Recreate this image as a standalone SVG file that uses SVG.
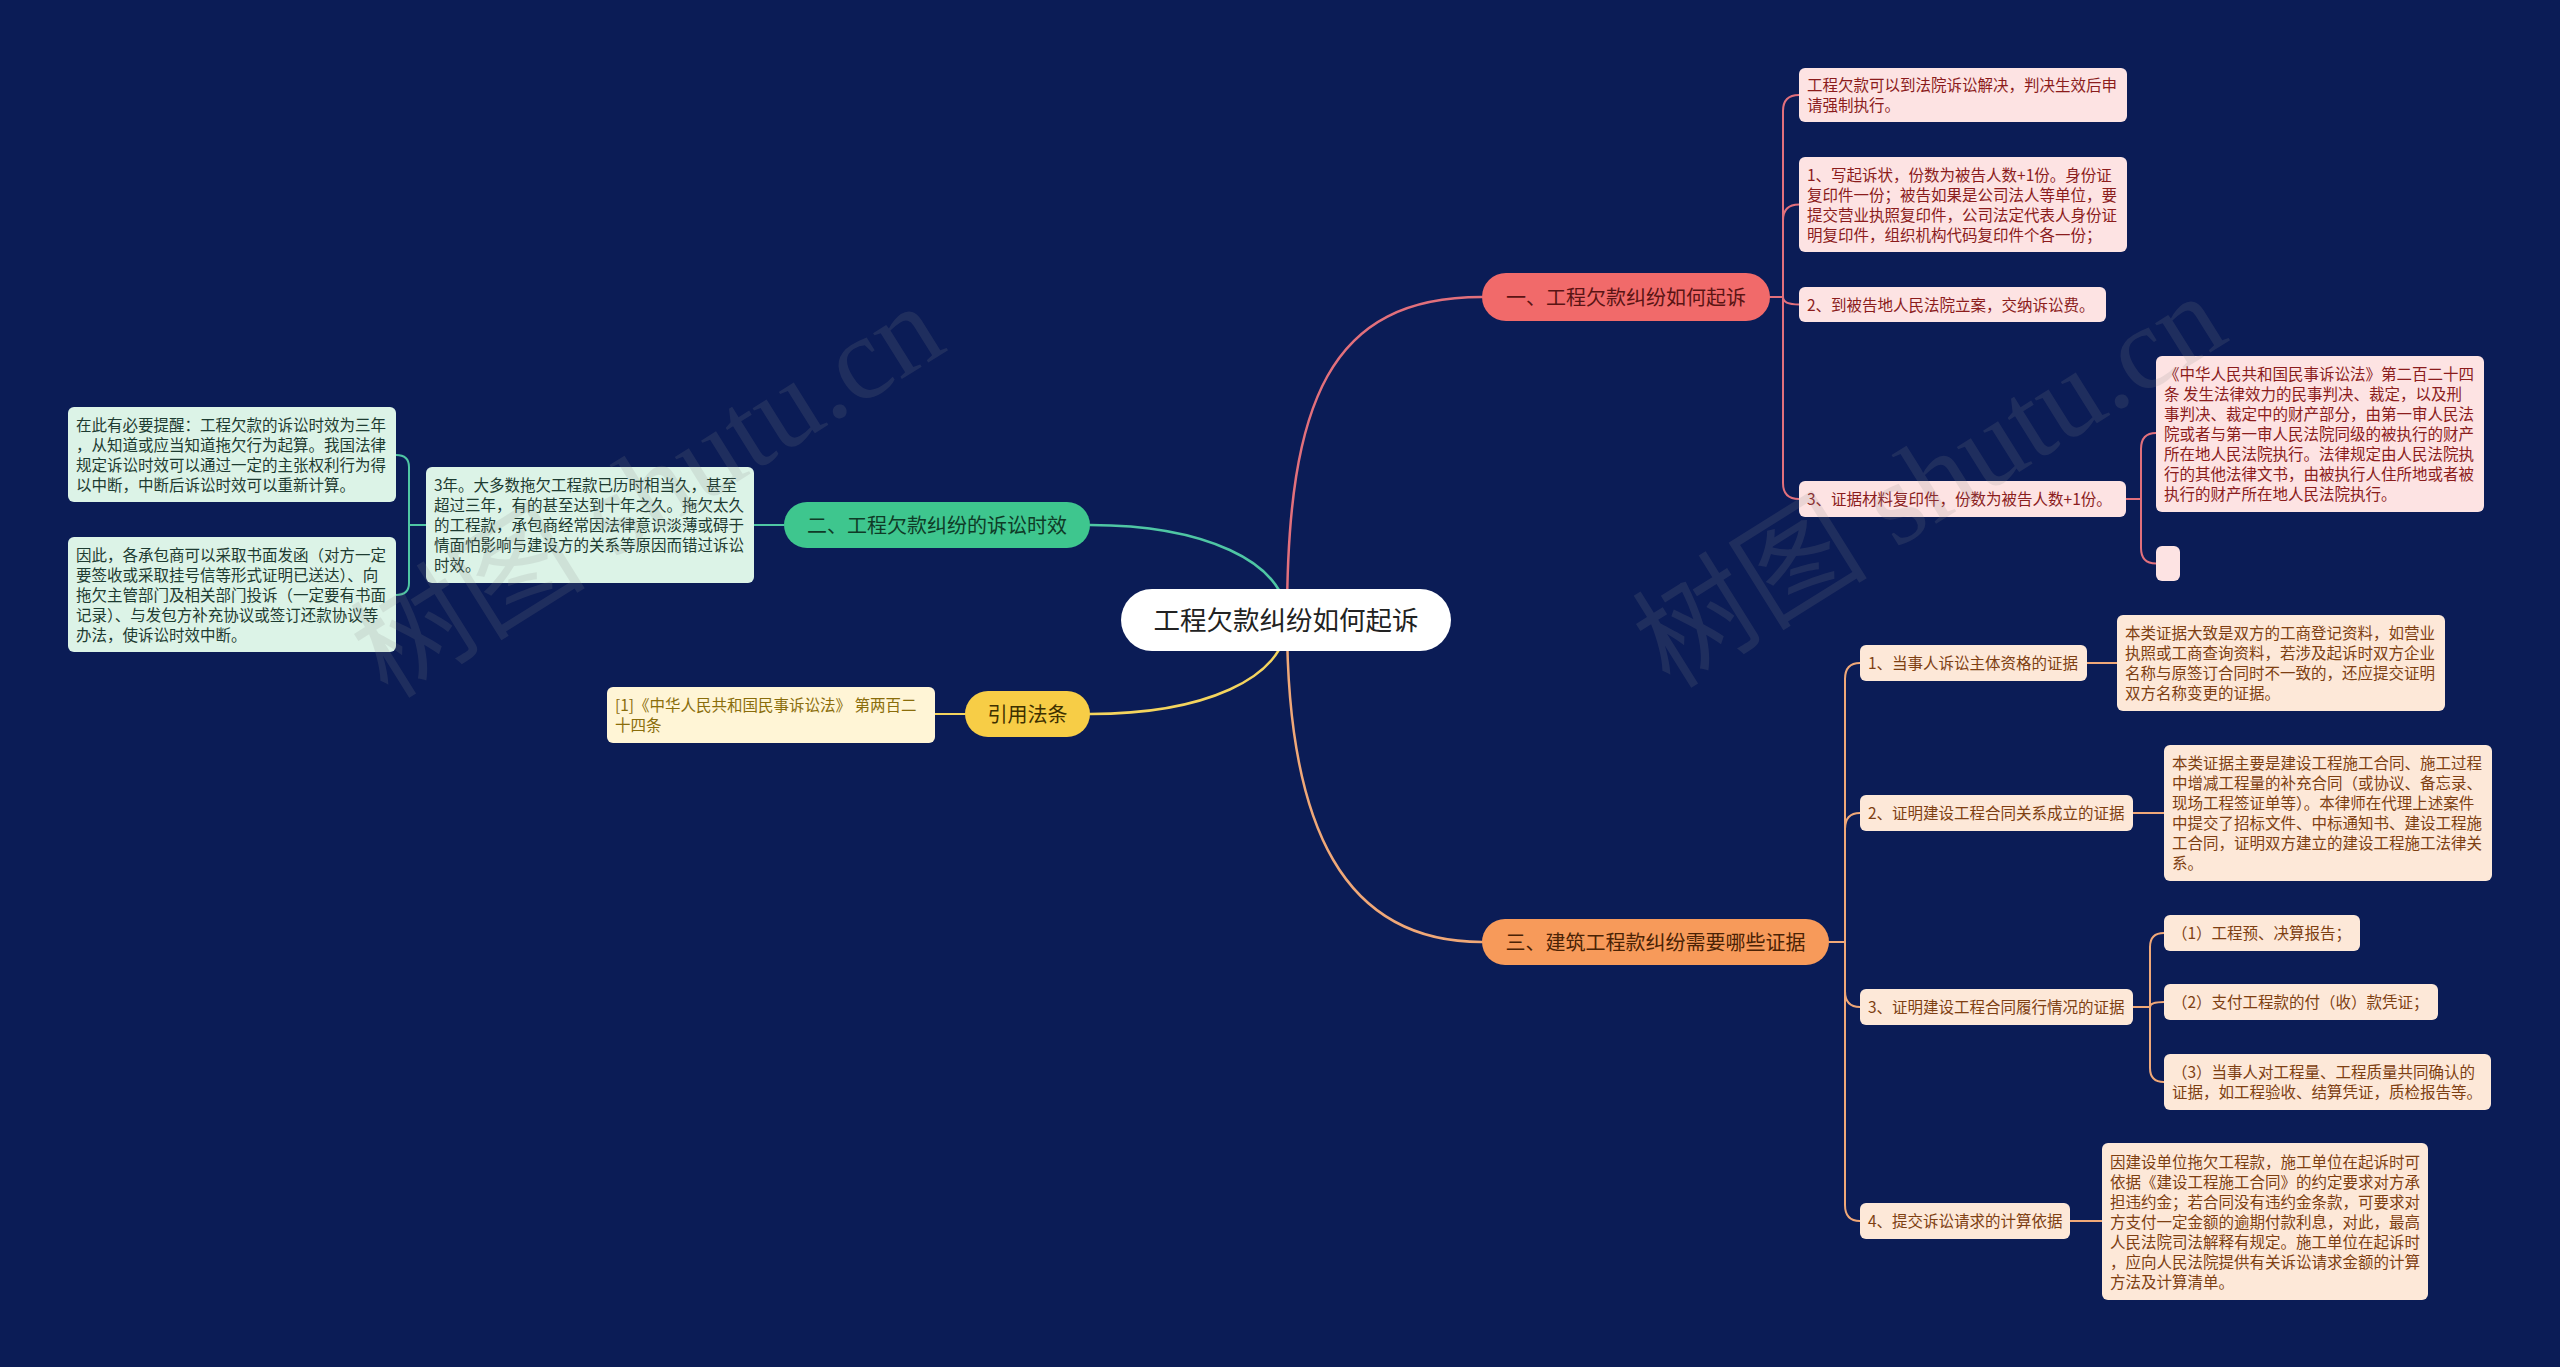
<svg xmlns="http://www.w3.org/2000/svg" width="2560" height="1367" viewBox="0 0 2560 1367">
<style>
text{font-family:"Noto Sans CJK SC","Noto Sans",sans-serif}
.s{font-size:15.5px}
.b{font-size:20px;text-anchor:middle}
.root{font-size:26.5px;text-anchor:middle;fill:#222}
.rbox{fill:#fde3e3}.rtx{fill:#8b1c1c}
.gbox{fill:#dcf3e7}.gtx{fill:#1e3b31}
.ybox{fill:#fff5d6}.ytx{fill:#8a6d0b}
.obox{fill:#fde8d8}.otx{fill:#7e3f12}
.c{fill:none;stroke-width:2;stroke-linecap:round}
.cm{fill:none;stroke-width:2.5;stroke-linecap:round}
.cr{stroke:#e2707c}.cg{stroke:#4fc6a4}.cy{stroke:#f4d45e}.co{stroke:#f0a878}
.wm{font-family:"Liberation Serif","Noto Sans CJK SC",serif;font-size:118px;fill:#8a8a8a;opacity:0.16}
</style>
<rect width="2560" height="1367" fill="#0b1c56"/>
<g id="connectors">
<path class="cm cr" d="M1287,620 C1287,400 1330,297 1482,297"/>
<path class="cm co" d="M1287,620 C1287,830 1345,942 1482,942"/>
<path class="cm cg" d="M1287,620 C1287,560 1200,525 1090,525"/>
<path class="cm cy" d="M1287,620 C1287,680 1200,714 1090,714"/>
<path class="c cr" d="M1770,297 H1783 M1783,297 V111 Q1783,95 1799,95 M1783,297 V220.5 Q1783,204.5 1799,204.5 M1783,297 Q1783,304.5 1799,304.5 M1783,297 V483 Q1783,499 1799,499"/>
<path class="c cr" d="M2126,499 H2141 M2141,499 V449 Q2141,433 2156,433 M2141,499 V548 Q2141,563.5 2156,563.5"/>
<path class="c cg" d="M426,525 H409 M409,525 V467 Q409,455 396,455 M409,525 V583 Q409,595 396,595 M754,525 H784"/>
<path class="c cy" d="M935,714 H965"/>
<path class="c co" d="M1829,942 H1845 M1845,942 V679 Q1845,663 1860,663 M1845,942 V829 Q1845,813 1860,813 M1845,942 V991 Q1845,1007 1860,1007 M1845,942 V1205 Q1845,1221 1860,1221"/>
<path class="c co" d="M2087,663 H2117 M2133,813 H2164 M2070,1221 H2102 M2133,1007 H2150 M2150,1007 V947 Q2150,933 2164,933 M2150,1007 Q2150,1002 2164,1002 M2150,1007 V1068 Q2150,1082 2164,1082"/>
</g>
<g id="root">
<rect x="1121" y="589" width="330" height="62" rx="31" fill="#ffffff"/>
<text class="root" x="1286" y="630">工程欠款纠纷如何起诉</text>
</g>
<g id="branch1">
<rect x="1482" y="273" width="288" height="48" rx="24" fill="#f16a6a"/>
<text class="b" x="1626" y="304.6" fill="#5a1414">一、工程欠款纠纷如何起诉</text>
</g>
<g id="r1">
<rect class="rbox" x="1799" y="68" width="328" height="54" rx="6"/>
<text class="s rtx" x="1807"><tspan x="1807" y="91">工程欠款可以到法院诉讼解决，判决生效后申</tspan><tspan x="1807" y="111">请强制执行。</tspan></text>
</g>
<g id="r2">
<rect class="rbox" x="1799" y="157" width="328" height="95" rx="6"/>
<text class="s rtx"><tspan x="1807" y="181">1、写起诉状，份数为被告人数+1份。身份证</tspan><tspan x="1807" y="201">复印件一份；被告如果是公司法人等单位，要</tspan><tspan x="1807" y="221">提交营业执照复印件，公司法定代表人身份证</tspan><tspan x="1807" y="241">明复印件，组织机构代码复印件个各一份；</tspan></text>
</g>
<g id="r3">
<rect class="rbox" x="1799" y="287" width="307" height="35" rx="6"/>
<text class="s rtx" x="1807" y="310.5">2、到被告地人民法院立案，交纳诉讼费。</text>
</g>
<g id="r4">
<rect class="rbox" x="1799" y="481" width="327" height="36" rx="6"/>
<text class="s rtx" x="1807" y="505">3、证据材料复印件，份数为被告人数+1份。</text>
</g>
<g id="r5">
<rect class="rbox" x="2156" y="356" width="328" height="156" rx="6"/>
<text class="s rtx"><tspan x="2164" y="380">《中华人民共和国民事诉讼法》第二百二十四</tspan><tspan x="2164" y="400">条 发生法律效力的民事判决、裁定，以及刑</tspan><tspan x="2164" y="420">事判决、裁定中的财产部分，由第一审人民法</tspan><tspan x="2164" y="440">院或者与第一审人民法院同级的被执行的财产</tspan><tspan x="2164" y="460">所在地人民法院执行。法律规定由人民法院执</tspan><tspan x="2164" y="480">行的其他法律文书，由被执行人住所地或者被</tspan><tspan x="2164" y="500">执行的财产所在地人民法院执行。</tspan></text>
</g>
<g id="r6">
<rect class="rbox" x="2156" y="546" width="24" height="35" rx="6"/>
</g>
<g id="branch2">
<rect x="784" y="502" width="306" height="46" rx="23" fill="#3ec68e"/>
<text class="b" x="937" y="532.6" fill="#0f3b27">二、工程欠款纠纷的诉讼时效</text>
</g>
<g id="g1">
<rect class="gbox" x="68" y="407" width="328" height="95" rx="6"/>
<text class="s gtx"><tspan x="76" y="430.5">在此有必要提醒：工程欠款的诉讼时效为三年</tspan><tspan x="76" y="450.5">，从知道或应当知道拖欠行为起算。我国法律</tspan><tspan x="76" y="470.5">规定诉讼时效可以通过一定的主张权利行为得</tspan><tspan x="76" y="490.5">以中断，中断后诉讼时效可以重新计算。</tspan></text>
</g>
<g id="g2">
<rect class="gbox" x="68" y="537" width="328" height="115" rx="6"/>
<text class="s gtx"><tspan x="76" y="560.5">因此，各承包商可以采取书面发函（对方一定</tspan><tspan x="76" y="580.5">要签收或采取挂号信等形式证明已送达）、向</tspan><tspan x="76" y="600.5">拖欠主管部门及相关部门投诉（一定要有书面</tspan><tspan x="76" y="620.5">记录）、与发包方补充协议或签订还款协议等</tspan><tspan x="76" y="640.5">办法，使诉讼时效中断。</tspan></text>
</g>
<g id="g3">
<rect class="gbox" x="426" y="467" width="328" height="116" rx="6"/>
<text class="s gtx"><tspan x="434" y="491">3年。大多数拖欠工程款已历时相当久，甚至</tspan><tspan x="434" y="511">超过三年，有的甚至达到十年之久。拖欠太久</tspan><tspan x="434" y="531">的工程款，承包商经常因法律意识淡薄或碍于</tspan><tspan x="434" y="551">情面怕影响与建设方的关系等原因而错过诉讼</tspan><tspan x="434" y="571">时效。</tspan></text>
</g>
<g id="branch3">
<rect x="965" y="691" width="125" height="46" rx="23" fill="#f7cd46"/>
<text class="b" x="1027.5" y="721.6" fill="#3d3000">引用法条</text>
</g>
<g id="y1">
<rect class="ybox" x="607" y="687" width="328" height="56" rx="6"/>
<text class="s ytx"><tspan x="615" y="711">[1]《中华人民共和国民事诉讼法》 第两百二</tspan><tspan x="615" y="731">十四条</tspan></text>
</g>
<g id="branch4">
<rect x="1482" y="919" width="347" height="46" rx="23" fill="#f79a5a"/>
<text class="b" x="1655.5" y="949.6" fill="#4a2205">三、建筑工程款纠纷需要哪些证据</text>
</g>
<g id="o1">
<rect class="obox" x="1860" y="645" width="227" height="36" rx="6"/>
<text class="s otx" x="1868" y="669">1、当事人诉讼主体资格的证据</text>
</g>
<g id="o1c">
<rect class="obox" x="2117" y="615" width="328" height="96" rx="6"/>
<text class="s otx"><tspan x="2125" y="639">本类证据大致是双方的工商登记资料，如营业</tspan><tspan x="2125" y="659">执照或工商查询资料，若涉及起诉时双方企业</tspan><tspan x="2125" y="679">名称与原签订合同时不一致的，还应提交证明</tspan><tspan x="2125" y="699">双方名称变更的证据。</tspan></text>
</g>
<g id="o2">
<rect class="obox" x="1860" y="795" width="273" height="36" rx="6"/>
<text class="s otx" x="1868" y="819">2、证明建设工程合同关系成立的证据</text>
</g>
<g id="o2c">
<rect class="obox" x="2164" y="745" width="328" height="136" rx="6"/>
<text class="s otx"><tspan x="2172" y="769">本类证据主要是建设工程施工合同、施工过程</tspan><tspan x="2172" y="789">中增减工程量的补充合同（或协议、备忘录、</tspan><tspan x="2172" y="809">现场工程签证单等）。本律师在代理上述案件</tspan><tspan x="2172" y="829">中提交了招标文件、中标通知书、建设工程施</tspan><tspan x="2172" y="849">工合同，证明双方建立的建设工程施工法律关</tspan><tspan x="2172" y="869">系。</tspan></text>
</g>
<g id="o3">
<rect class="obox" x="1860" y="989" width="273" height="36" rx="6"/>
<text class="s otx" x="1868" y="1013">3、证明建设工程合同履行情况的证据</text>
</g>
<g id="o3a">
<rect class="obox" x="2164" y="915" width="196" height="36" rx="6"/>
<text class="s otx" x="2172" y="939">（1）工程预、决算报告；</text>
</g>
<g id="o3b">
<rect class="obox" x="2164" y="984" width="274" height="36" rx="6"/>
<text class="s otx" x="2172" y="1008">（2）支付工程款的付（收）款凭证；</text>
</g>
<g id="o3c">
<rect class="obox" x="2164" y="1054" width="327" height="56" rx="6"/>
<text class="s otx"><tspan x="2172" y="1078">（3）当事人对工程量、工程质量共同确认的</tspan><tspan x="2172" y="1098">证据，如工程验收、结算凭证，质检报告等。</tspan></text>
</g>
<g id="o4">
<rect class="obox" x="1860" y="1203" width="210" height="36" rx="6"/>
<text class="s otx" x="1868" y="1227">4、提交诉讼请求的计算依据</text>
</g>
<g id="o4c">
<rect class="obox" x="2102" y="1143" width="326" height="157" rx="6"/>
<text class="s otx"><tspan x="2110" y="1167.5">因建设单位拖欠工程款，施工单位在起诉时可</tspan><tspan x="2110" y="1187.5">依据《建设工程施工合同》的约定要求对方承</tspan><tspan x="2110" y="1207.5">担违约金；若合同没有违约金条款，可要求对</tspan><tspan x="2110" y="1227.5">方支付一定金额的逾期付款利息，对此，最高</tspan><tspan x="2110" y="1247.5">人民法院司法解释有规定。施工单位在起诉时</tspan><tspan x="2110" y="1267.5">，应向人民法院提供有关诉讼请求金额的计算</tspan><tspan x="2110" y="1287.5">方法及计算清单。</tspan></text>
</g>
<g id="watermarks">
<text class="wm" x="388" y="700" transform="rotate(-32 388 700)">树图 shutu.cn</text>
<text class="wm" x="1670" y="690" transform="rotate(-32 1670 690)">树图 shutu.cn</text>
</g>
</svg>
